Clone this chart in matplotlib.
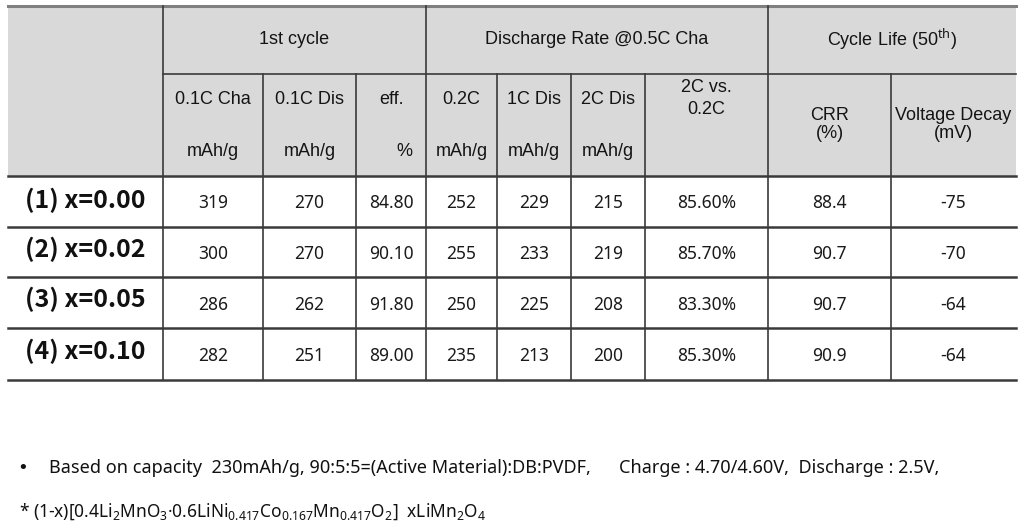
import matplotlib.pyplot as plt
from matplotlib.patches import Rectangle

# table content
group_titles = ['1st cycle', 'Discharge Rate @0.5C Cha', 'Cycle Life (50$^{\\mathrm{th}}$)']
sub_titles = ['0.1C Cha', '0.1C Dis', 'eff.', '0.2C', '1C Dis', '2C Dis']
sub_units = ['mAh/g', 'mAh/g', '%', 'mAh/g', 'mAh/g', 'mAh/g']
sub_titles2 = [['2C vs.', '0.2C'], ['CRR', '(%)'], ['Voltage Decay', '(mV)']]

row_labels = ['(1) x=0.00', '(2) x=0.02', '(3) x=0.05', '(4) x=0.10']
cha_01c = [319, 300, 286, 282]
dis_01c = [270, 270, 262, 251]
eff = [84.80, 90.10, 91.80, 89.00]
dis_02c = [252, 255, 250, 235]
dis_1c = [229, 233, 225, 213]
dis_2c = [215, 219, 208, 200]
ratio_2c = [85.60, 85.70, 83.30, 85.30]
crr = [88.4, 90.7, 90.7, 90.9]
v_decay = [-75, -70, -64, -64]

note1 = 'Based on capacity  230mAh/g, 90:5:5=(Active Material):DB:PVDF,'
note2 = 'Charge : 4.70/4.60V,  Discharge : 2.5V,'
formula = ('* (1-x)[0.4Li$_2$MnO$_3$\u00b70.6LiNi$_{0.417}$Co$_{0.167}$'
           'Mn$_{0.417}$O$_2$]  xLiMn$_2$O$_4$')

# layout in pixels
col_x = [8, 163, 263, 356, 426, 497, 571, 645, 768, 891, 1016]
row_y = [6, 74, 176, 227, 277, 328, 380]
group_span = [(1, 4), (4, 8), (8, 10)]

plt.rcParams['mathtext.fontset'] = 'custom'
plt.rcParams['mathtext.rm'] = 'Noto Sans'

fig = plt.figure(figsize=(10.24, 5.30), dpi=100)
ax = fig.add_axes([0, 0, 1, 1])
ax.set_xlim(0, 1024)
ax.set_ylim(530, 0)
ax.axis('off')

hdr_font = dict(family='Liberation Sans', fontsize=13, color='#141414')
val_font = dict(family='Noto Sans', fontsize=12.5, color='#1a1a1a')
line_c = '#3a3a3a'

# header background
ax.add_patch(Rectangle((col_x[0], row_y[0]), col_x[-1] - col_x[0], row_y[2] - row_y[0],
                       facecolor='#d9d9d9', edgecolor='none'))

# horizontal lines
ax.plot([col_x[0], col_x[-1]], [row_y[0], row_y[0]], color='#7f7f7f', lw=2.2)
ax.plot([col_x[1], col_x[-1]], [row_y[1], row_y[1]], color=line_c, lw=1.2)
for y in row_y[2:]:
    ax.plot([col_x[0], col_x[-1]], [y, y], color=line_c, lw=1.8)

# vertical lines
for i, x in enumerate(col_x[1:-1], start=1):
    top = row_y[0] if i in (1, 4, 8) else row_y[1]
    ax.plot([x, x], [top, row_y[-1]], color=line_c, lw=1.2)

# group titles
for title, (a, b) in zip(group_titles, group_span):
    ax.text((col_x[a] + col_x[b]) / 2, (row_y[0] + row_y[1]) / 2 - 1, title,
            ha='center', va='center', **hdr_font)

# sub headers
for i, (t, u) in enumerate(zip(sub_titles, sub_units)):
    cx = (col_x[i + 1] + col_x[i + 2]) / 2
    ax.text(cx, 100, t, ha='center', va='center', **hdr_font)
    if u == '%':
        ax.text(col_x[i + 2] - 14, 152, u, ha='right', va='center', **hdr_font)
    else:
        ax.text(cx, 152, u, ha='center', va='center', **hdr_font)
line_ys = [(88, 110), (115, 133), (115, 133)]
for j, lines in enumerate(sub_titles2):
    cx = (col_x[j + 7] + col_x[j + 8]) / 2
    for t, y in zip(lines, line_ys[j]):
        ax.text(cx, y, t, ha='center', va='center', **hdr_font)

# data rows
columns = [
    [str(v) for v in cha_01c],
    [str(v) for v in dis_01c],
    ['%.2f' % v for v in eff],
    [str(v) for v in dis_02c],
    [str(v) for v in dis_1c],
    [str(v) for v in dis_2c],
    ['%.2f%%' % v for v in ratio_2c],
    ['%.1f' % v for v in crr],
    [str(v) for v in v_decay],
]
for r, label in enumerate(row_labels):
    y0, y1 = row_y[r + 2], row_y[r + 3]
    ax.text(25, (y0 + y1) / 2 - 1 - (2 if r else 0), label, ha='left', va='center',
            family=['Noto Sans CJK KR', 'DejaVu Sans'], fontsize=18, fontweight='bold',
            color='#111111')
    for c, col in enumerate(columns):
        cx = (col_x[c + 1] + col_x[c + 2]) / 2
        ax.text(cx, (y0 + y1) / 2 + 2, col[r], ha='center', va='center', **val_font)

# notes
ax.text(23, 468, '\u2022', ha='center', va='center', family='DejaVu Sans', fontsize=13, color='#111111')
ax.text(49, 468, note1, ha='left', va='center', family='Noto Sans', fontsize=13, color='#111111')
ax.text(619, 468, note2, ha='left', va='center', family='Noto Sans', fontsize=13, color='#111111')
ax.text(19, 512, formula, ha='left', va='center', family='Noto Sans', fontsize=12.5, color='#111111')

fig.savefig('out.png', dpi=100)
